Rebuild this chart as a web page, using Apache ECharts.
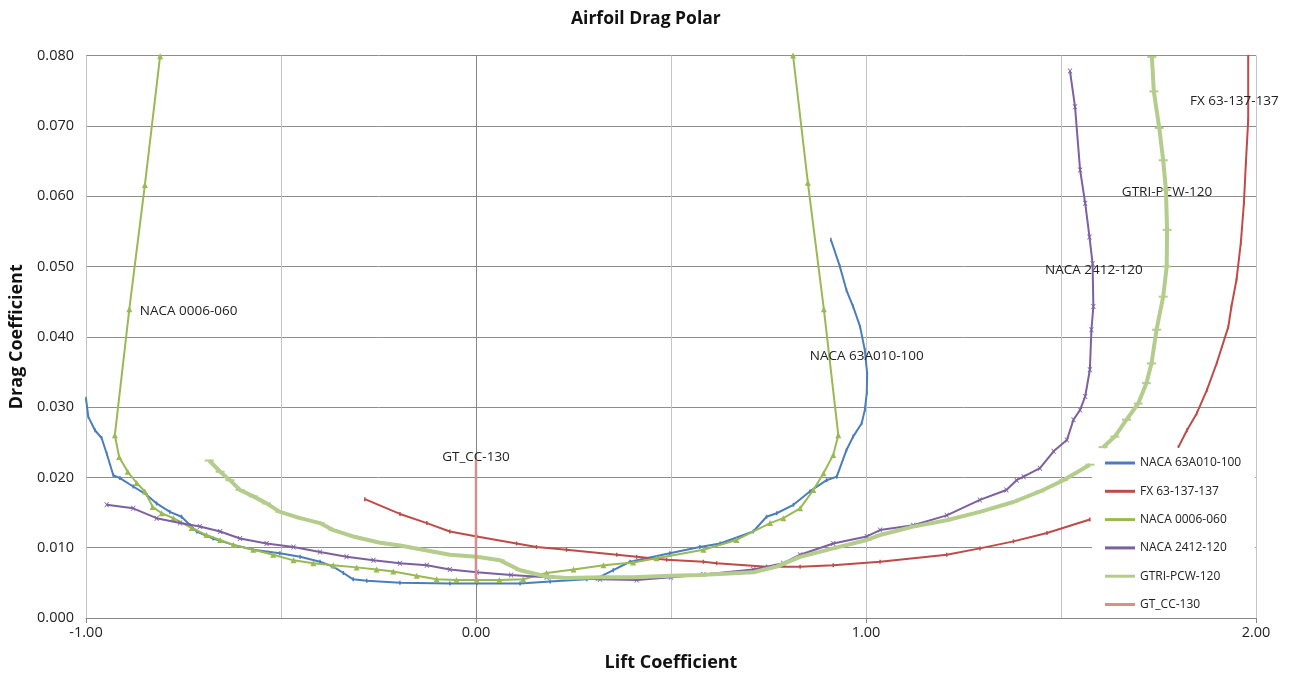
<!DOCTYPE html>
<html>
<head>
<meta charset="utf-8">
<script src="https://cdn.jsdelivr.net/npm/echarts@6/dist/echarts.min.js"></script>
<style>
  html, body { margin: 0; padding: 0; background: #fff; }
  #chart { width: 1292px; height: 675px; }
</style>
</head>
<body>
<div id="chart"></div>
<script>
// polar data: [lift, drag]; null = gap in the line
const naca63a010 = [[-1.000,0.0312],[-0.994,0.0286],[-0.977,0.0267],[-0.960,0.0256],[-0.947,0.0234],[-0.930,0.0203],[-0.913,0.0199],[-0.879,0.0187],[-0.844,0.0175],[-0.819,0.0163],[-0.785,0.0151],[-0.755,0.0144],[-0.733,0.0132],[-0.716,0.0123],[-0.674,0.0113],[-0.622,0.0104],[-0.571,0.0097],[-0.503,0.0092],[-0.451,0.0087],[-0.400,0.0080],[-0.366,0.0073],[-0.340,0.0064],[-0.315,0.0055],[-0.280,0.0053],[-0.195,0.0050],[-0.067,0.0049],[0.002,0.0049],[0.113,0.0049],[0.190,0.0052],[0.284,0.0055],[0.309,0.0056],[0.352,0.0068],[0.395,0.0080],[0.497,0.0092],[0.574,0.0101],[0.626,0.0106],[0.711,0.0123],[0.745,0.0144],[0.771,0.0149],[0.814,0.0161],[0.856,0.0180],[0.899,0.0196],[0.925,0.0201],[0.950,0.0239],[0.967,0.0258],[0.989,0.0277],[0.997,0.0296],[1.002,0.0320],[1.003,0.0348],[0.997,0.0381],[0.985,0.0414],[0.967,0.0443],[0.950,0.0466],[0.933,0.0500],[0.910,0.0538]];

const fx63137 = [[-0.285,0.0169],[-0.195,0.0148],[-0.126,0.0135],[-0.067,0.0123],[0.002,0.0116],[0.104,0.0106],[0.155,0.0101],[0.232,0.0097],[0.361,0.0090],[0.412,0.0087],[0.489,0.0083],[0.583,0.0080],[0.617,0.0078],[0.745,0.0073],[0.831,0.0073],[0.916,0.0075],[1.036,0.0080],[1.207,0.0090],[1.292,0.0099],[1.378,0.0109],[1.464,0.0121],[1.574,0.0140],null,[1.801,0.0243],[1.823,0.0267],[1.848,0.0291],[1.874,0.0324],[1.899,0.0362],[1.929,0.0414],[1.937,0.0443],[1.950,0.0481],[1.961,0.0533],[1.969,0.0590],[1.974,0.0647],[1.980,0.0708],[1.980,0.0801]];

const naca0006 = [[-0.810,0.0799],[-0.849,0.0616],[-0.889,0.0439],[-0.926,0.0260],[-0.915,0.0229],[-0.893,0.0208],[-0.870,0.0192],[-0.849,0.0180],[-0.829,0.0158],[-0.806,0.0149],[-0.776,0.0142],[-0.729,0.0128],[-0.691,0.0118],[-0.656,0.0111],[-0.622,0.0104],[-0.571,0.0097],[-0.520,0.0090],[-0.468,0.0082],[-0.417,0.0078],[-0.366,0.0075],[-0.306,0.0072],[-0.255,0.0069],[-0.212,0.0066],[-0.152,0.0060],[-0.101,0.0055],[-0.050,0.0054],[0.002,0.0054],[0.060,0.0054],[0.121,0.0055],[0.181,0.0064],[0.250,0.0069],[0.327,0.0075],[0.403,0.0079],[0.463,0.0085],[0.583,0.0097],[0.668,0.0111],[0.754,0.0135],[0.788,0.0142],[0.831,0.0156],[0.865,0.0182],[0.891,0.0206],[0.916,0.0232],[0.929,0.0260],[0.892,0.0439],[0.851,0.0619],[0.813,0.0800]];

const naca2412 = [[-0.947,0.0161],[-0.879,0.0156],[-0.819,0.0142],[-0.759,0.0135],[-0.708,0.0130],[-0.656,0.0123],[-0.605,0.0113],[-0.537,0.0106],[-0.468,0.0101],[-0.400,0.0094],[-0.332,0.0087],[-0.263,0.0082],[-0.195,0.0078],[-0.126,0.0075],[-0.067,0.0069],[0.002,0.0065],[0.090,0.0061],[0.181,0.0058],[0.318,0.0055],[0.412,0.0054],[0.500,0.0058],[0.583,0.0062],[0.711,0.0069],[0.788,0.0078],[0.831,0.0090],[0.916,0.0106],[1.002,0.0116],[1.036,0.0125],[1.121,0.0132],[1.207,0.0146],[1.292,0.0168],[1.360,0.0182],[1.386,0.0196],[1.404,0.0201],[1.446,0.0213],[1.481,0.0237],[1.515,0.0253],[1.532,0.0282],[1.549,0.0296],[1.562,0.0315],[1.574,0.0353],[1.578,0.0410],[1.583,0.0443],[1.581,0.0504],[1.573,0.0542],[1.562,0.0590],[1.549,0.0637],[1.536,0.0727],[1.523,0.0778]];

const gtriPcw = [[-0.684,0.0224],[-0.656,0.0208],[-0.631,0.0196],[-0.605,0.0182],[-0.571,0.0173],[-0.537,0.0163],[-0.503,0.0151],[-0.451,0.0142],[-0.400,0.0135],[-0.366,0.0125],[-0.315,0.0116],[-0.246,0.0107],[-0.195,0.0103],[-0.126,0.0096],[-0.067,0.0090],[0.002,0.0087],[0.062,0.0082],[0.113,0.0068],[0.181,0.0059],[0.232,0.0057],[0.320,0.0058],[0.403,0.0058],[0.497,0.0060],[0.574,0.0061],[0.711,0.0065],[0.771,0.0073],[0.831,0.0087],[0.916,0.0099],[1.002,0.0111],[1.036,0.0118],[1.121,0.0130],[1.207,0.0139],[1.292,0.0151],[1.378,0.0165],[1.446,0.0180],[1.506,0.0196],[1.574,0.0218],null,[1.608,0.0243],[1.638,0.0258],[1.668,0.0282],[1.698,0.0305],[1.719,0.0334],[1.732,0.0362],[1.745,0.0410],[1.762,0.0457],[1.771,0.0500],[1.772,0.0552],[1.769,0.0609],[1.762,0.0651],[1.752,0.0697],[1.738,0.0749],[1.733,0.0798]];

const gtCc130 = [[0.000,0.0052],[0.000,0.0225]];

const names = ['NACA 63A010-100', 'FX 63-137-137', 'NACA 0006-060', 'NACA 2412-120', 'GTRI-PCW-120', 'GT_CC-130'];
const colors = ['#4A7EBB', '#BE4B48', '#98B954', '#7D60A0', '#B4CD8C', '#D58F8D'];

// where the in-plot name labels sit (data units)
const labelAt = {
  'NACA 63A010-100': [0.856, 0.0373],
  'FX 63-137-137': [1.831, 0.0735],
  'NACA 0006-060': [-0.862, 0.0437],
  'NACA 2412-120': [1.459, 0.0495],
  'GTRI-PCW-120': [1.656, 0.0606],
  'GT_CC-130': [0.000, 0.0225]
};

const font = 'Open Sans';
const xMark = 'path://M0,0L2,0L5,3.5L8,0L10,0L6,5L10,10L8,10L5,6.5L2,10L0,10L4,5Z';

function pts(arr) {
  return arr.map(p => p === null ? ['-', '-'] : p);
}

function nameLabel(name, isTop) {
  return {
    silent: true,
    symbol: 'circle',
    symbolSize: 0,
    data: [{
      coord: labelAt[name],
      label: {
        show: true,
        position: isTop ? 'top' : 'right',
        distance: isTop ? -4 : 0,
        formatter: name, color: '#222', fontSize: 13.5, fontFamily: font
      }
    }]
  };
}

function makeSeries(i, data, lineWidth, symbol, symbolSize) {
  return {
    name: names[i],
    type: 'line',
    data: pts(data),
    connectNulls: false,
    symbol: symbol,
    symbolSize: symbolSize,
    showSymbol: symbol !== 'none',
    color: colors[i],
    lineStyle: { width: lineWidth, color: colors[i] },
    itemStyle: { color: colors[i] },
    markPoint: nameLabel(names[i], names[i] === 'GT_CC-130'),
    z: 2 + i
  };
}

const chart = echarts.init(document.getElementById('chart'));
const option = {
  animation: false,
  backgroundColor: '#fff',
  title: {
    text: 'Airfoil Drag Polar',
    left: 566, top: 5,
    textStyle: { fontSize: 17.5, fontWeight: 'bold', color: '#111', fontFamily: font }
  },
  grid: { left: 86, right: 36, top: 55.5, bottom: 57, outerBoundsMode: 'none', containLabel: false },
  legend: {
    orient: 'vertical',
    left: 1092, top: 448,
    padding: [8, 14, 3, 13],
    backgroundColor: '#fff',
    icon: 'rect',
    itemWidth: 30, itemHeight: 3, itemGap: 14.3,
    textStyle: { fontSize: 12, lineHeight: 14, color: '#222', fontFamily: font },
    data: names
  },
  xAxis: {
    type: 'value',
    min: -1, max: 2, interval: 1,
    name: 'Lift Coefficient',
    nameLocation: 'middle', nameGap: 36,
    nameTextStyle: { fontSize: 18, fontWeight: 'bold', color: '#111', fontFamily: font },
    axisLine: { show: true, onZero: false, lineStyle: { color: '#868686' } },
    axisTick: { show: true, length: 5, lineStyle: { color: '#868686' } },
    axisLabel: { fontSize: 14.5, color: '#222', fontFamily: font, margin: 7, formatter: v => v.toFixed(2) },
    splitLine: { show: true, lineStyle: { color: '#C4C4C4' } },
    minorTick: { show: false, splitNumber: 2 },
    minorSplitLine: { show: true, lineStyle: { color: '#C4C4C4' } }
  },
  yAxis: {
    type: 'value',
    min: 0, max: 0.08, interval: 0.01,
    name: 'Drag Coefficient',
    nameLocation: 'middle', nameGap: 58,
    nameTextStyle: { fontSize: 18, fontWeight: 'bold', color: '#111', fontFamily: font },
    axisLine: { show: true, lineStyle: { color: '#868686' } },
    axisTick: { show: true, length: 5, lineStyle: { color: '#868686' } },
    axisLabel: { fontSize: 14.5, color: '#222', fontFamily: font, margin: 12, formatter: v => v.toFixed(3) },
    splitLine: { show: true, lineStyle: { color: '#8E8E8E' } }
  },
  series: [
    makeSeries(0, naca63a010, 2, 'rect', [1.5, 4]),
    makeSeries(1, fx63137, 2, 'rect', [1.5, 4]),
    makeSeries(2, naca0006, 2, 'triangle', 6),
    makeSeries(3, naca2412, 2, xMark, 5),
    makeSeries(4, gtriPcw, 4, 'rect', [9, 2]),
    makeSeries(5, gtCc130, 2.5, 'none', 0)
  ]
};
chart.setOption(option);
</script>
</body>
</html>
